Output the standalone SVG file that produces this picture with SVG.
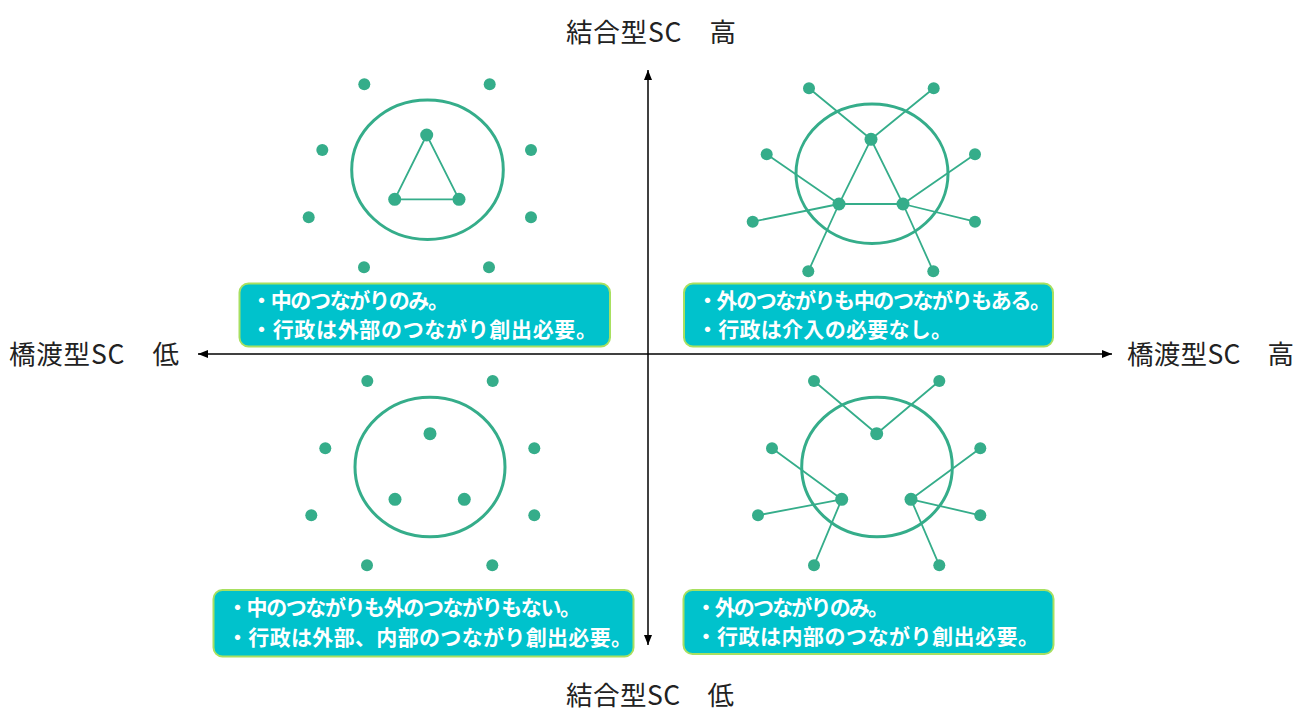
<svg xmlns="http://www.w3.org/2000/svg" width="1308" height="711" viewBox="0 0 1308 711">
<style>
.bg{fill:#ffffff}
.ring{fill:none;stroke:#35ad8a;stroke-width:3}
.dot{fill:#35ad8a}
.link{stroke:#35ad8a;stroke-width:1.8;fill:none}
.axis{stroke:#000;stroke-width:1.5;fill:none}
.box{fill:#00c2cc;stroke:#a8e060;stroke-width:2}
.bt{font-family:"Noto Sans CJK JP","Noto Sans",sans-serif;font-size:21px;font-weight:bold;fill:#ffffff}
.al{font-family:"Noto Sans CJK JP","Noto Sans",sans-serif;font-size:26.5px;fill:#222222}
</style>
<defs>
<marker id="ahb" viewBox="0 0 10 10" refX="10" refY="5" markerWidth="10" markerHeight="10" orient="auto-start-reverse" markerUnits="userSpaceOnUse">
<path d="M0,1 L10,5 L0,9 z" fill="#000"/>
</marker>
</defs>
<rect class="bg" x="0" y="0" width="1308" height="711"/>

<g id="connectors">
<line class="axis" x1="198" y1="354" x2="1112" y2="354" marker-start="url(#ahb)" marker-end="url(#ahb)"/>
<line class="axis" x1="648" y1="70" x2="648" y2="645" marker-start="url(#ahb)" marker-end="url(#ahb)"/>
</g>

<g id="quadrant-top-left">
<ellipse class="ring" cx="427.5" cy="169.7" rx="75.8" ry="69.7"/>
<path class="link" d="M426.7,135 L394.7,199.3 L459,199.3 Z"/>
<circle class="dot" cx="426.7" cy="135" r="6.5"/>
<circle class="dot" cx="394.7" cy="199.3" r="6.5"/>
<circle class="dot" cx="459" cy="199.3" r="6.5"/>
<circle class="dot" cx="364.3" cy="84.3" r="6"/>
<circle class="dot" cx="489.7" cy="84.3" r="6"/>
<circle class="dot" cx="322.3" cy="150" r="6"/>
<circle class="dot" cx="531" cy="150" r="6"/>
<circle class="dot" cx="308.7" cy="217.3" r="6"/>
<circle class="dot" cx="531" cy="217.3" r="6"/>
<circle class="dot" cx="364" cy="267.3" r="6"/>
<circle class="dot" cx="489" cy="267.3" r="6"/>
</g>

<g id="quadrant-top-right">
<ellipse class="ring" cx="872" cy="173.7" rx="76" ry="69.7"/>
<path class="link" d="M871,139.3 L839,204 L903,204 Z M871,139.3 L809,88.3 M871,139.3 L933.7,88.3 M839,204 L766.7,154.3 M839,204 L752.7,221.7 M839,204 L808.3,271.3 M903,204 L975,154.3 M903,204 L975,221.7 M903,204 L933.3,271.3"/>
<circle class="dot" cx="871" cy="139.3" r="6.5"/>
<circle class="dot" cx="839" cy="204" r="6.5"/>
<circle class="dot" cx="903" cy="204" r="6.5"/>
<circle class="dot" cx="809" cy="88.3" r="6"/>
<circle class="dot" cx="933.7" cy="88.3" r="6"/>
<circle class="dot" cx="766.7" cy="154.3" r="6"/>
<circle class="dot" cx="975" cy="154.3" r="6"/>
<circle class="dot" cx="752.7" cy="221.7" r="6"/>
<circle class="dot" cx="975" cy="221.7" r="6"/>
<circle class="dot" cx="808.3" cy="271.3" r="6"/>
<circle class="dot" cx="933.3" cy="271.3" r="6"/>
</g>

<g id="quadrant-bottom-left">
<ellipse class="ring" cx="430" cy="467" rx="75" ry="69.7"/>
<circle class="dot" cx="430" cy="433.7" r="6.5"/>
<circle class="dot" cx="395" cy="499.3" r="6.5"/>
<circle class="dot" cx="464.3" cy="499.3" r="6.5"/>
<circle class="dot" cx="367.3" cy="381" r="6"/>
<circle class="dot" cx="492.7" cy="381" r="6"/>
<circle class="dot" cx="325.3" cy="448.3" r="6"/>
<circle class="dot" cx="534.3" cy="448.3" r="6"/>
<circle class="dot" cx="311.3" cy="515.3" r="6"/>
<circle class="dot" cx="534.3" cy="515.3" r="6"/>
<circle class="dot" cx="367" cy="565.3" r="6"/>
<circle class="dot" cx="492.3" cy="565.3" r="6"/>
</g>

<g id="quadrant-bottom-right">
<ellipse class="ring" cx="877" cy="467" rx="75.3" ry="69.7"/>
<path class="link" d="M876.7,433.7 L814,381 M876.7,433.7 L939.3,381 M841.7,499.3 L772,448.3 M841.7,499.3 L758,515.3 M841.7,499.3 L814,565.3 M911,499.3 L980.3,448.3 M911,499.3 L980.3,515.3 M911,499.3 L939.3,565.3"/>
<circle class="dot" cx="876.7" cy="433.7" r="6.5"/>
<circle class="dot" cx="841.7" cy="499.3" r="6.5"/>
<circle class="dot" cx="911" cy="499.3" r="6.5"/>
<circle class="dot" cx="814" cy="381" r="6"/>
<circle class="dot" cx="939.3" cy="381" r="6"/>
<circle class="dot" cx="772" cy="448.3" r="6"/>
<circle class="dot" cx="980.3" cy="448.3" r="6"/>
<circle class="dot" cx="758" cy="515.3" r="6"/>
<circle class="dot" cx="980.3" cy="515.3" r="6"/>
<circle class="dot" cx="814" cy="565.3" r="6"/>
<circle class="dot" cx="939.3" cy="565.3" r="6"/>
</g>

<g id="box-top-left">
<rect class="box" x="239.5" y="283.5" width="370.5" height="63" rx="9"/>
<text class="bt" x="251" y="308" textLength="198" lengthAdjust="spacing">・中のつながりのみ。</text>
<text class="bt" x="251" y="337" textLength="346" lengthAdjust="spacing">・行政は外部のつながり創出必要。</text>
</g>

<g id="box-top-right">
<rect class="box" x="684" y="283.5" width="369" height="63" rx="9"/>
<text class="bt" x="697" y="308" textLength="354" lengthAdjust="spacing">・外のつながりも中のつながりもある。</text>
<text class="bt" x="697" y="337" textLength="255" lengthAdjust="spacing">・行政は介入の必要なし。</text>
</g>

<g id="box-bottom-left">
<rect class="box" x="213.5" y="590" width="420" height="66.5" rx="9"/>
<text class="bt" x="227" y="615" textLength="354" lengthAdjust="spacing">・中のつながりも外のつながりもない。</text>
<text class="bt" x="227" y="645" textLength="405" lengthAdjust="spacing">・行政は外部、内部のつながり創出必要。</text>
</g>

<g id="box-bottom-right">
<rect class="box" x="683.5" y="590" width="370" height="64" rx="9"/>
<text class="bt" x="695.5" y="615" textLength="193.5" lengthAdjust="spacing">・外のつながりのみ。</text>
<text class="bt" x="695.5" y="644" textLength="343.5" lengthAdjust="spacing">・行政は内部のつながり創出必要。</text>
</g>

<g id="label-top"><text class="al" x="566" y="42" textLength="170" lengthAdjust="spacing">結合型SC　高</text></g>
<g id="label-bottom"><text class="al" x="566" y="705" textLength="168" lengthAdjust="spacing">結合型SC　低</text></g>
<g id="label-left"><text class="al" x="9" y="364" textLength="170" lengthAdjust="spacing">橋渡型SC　低</text></g>
<g id="label-right"><text class="al" x="1127" y="364" textLength="167" lengthAdjust="spacing">橋渡型SC　高</text></g>
</svg>
